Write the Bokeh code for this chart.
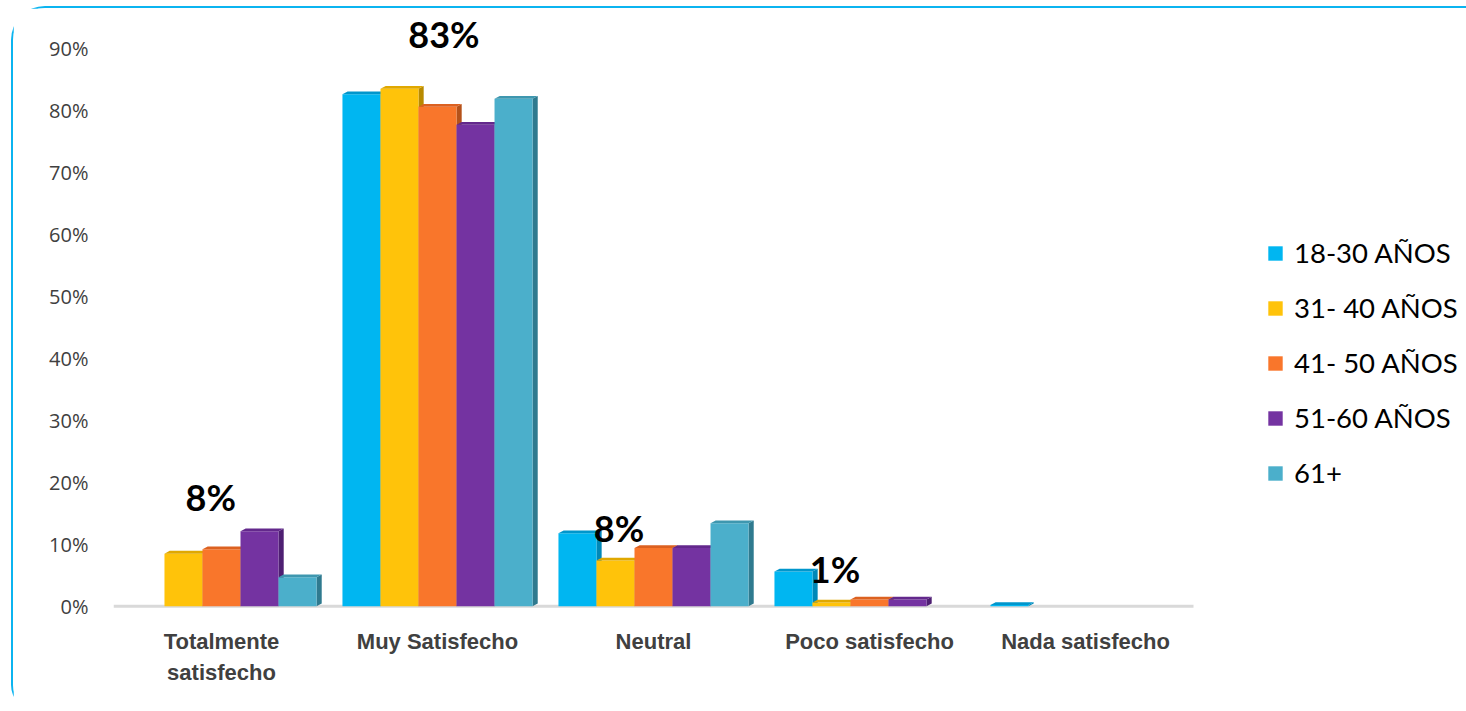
from bokeh.plotting import figure
from bokeh.models import Range1d, FixedTicker, Legend, LegendItem
from bokeh.core.properties import value
from bokeh.embed import file_html
from bokeh.resources import INLINE

# ---------------- data ----------------
categories = ["Totalmente satisfecho", "Muy Satisfecho", "Neutral", "Poco satisfecho", "Nada satisfecho"]
category_labels = ["Totalmente\nsatisfecho", "Muy Satisfecho", "Neutral", "Poco satisfecho", "Nada satisfecho"]
series_names = ["18-30 AÑOS", "31- 40 AÑOS", "41- 50 AÑOS", "51-60 AÑOS", "61+"]
v_18_30 = [0.0, 82.6, 11.8, 5.6, 0.2]
v_31_40 = [8.5, 83.5, 7.4, 0.6, 0.0]
v_41_50 = [9.2, 80.6, 9.4, 1.1, 0.0]
v_51_60 = [12.1, 77.7, 9.4, 1.1, 0.0]
v_61_plus = [4.7, 81.9, 13.4, 0.0, 0.0]
y_ticks = [0, 10, 20, 30, 40, 50, 60, 70, 80, 90]
y_tick_labels = ["0%", "10%", "20%", "30%", "40%", "50%", "60%", "70%", "80%", "90%"]
label_texts = ["8%", "83%", "8%", "1%"]
label_categories = ["Totalmente satisfecho", "Muy Satisfecho", "Neutral", "Poco satisfecho"]

# ---------------- styles ----------------
main_colors = ["#00B6F1", "#FFC30A", "#F9762B", "#7433A1", "#4BAFCB"]
side_colors = ["#0088B8", "#B88A00", "#B5521A", "#4E1F72", "#2F7A8F"]
top_colors = ["#0096CC", "#E0A800", "#DC6120", "#63288C", "#3E97AF"]
bar_w = 0.176
depth_x = 0.024
depth_y = 0.45
label_dx = [-0.05, 0.03, -0.16, -0.16]
label_y = [17.6, 92.4, 12.7, 6.1]

all_values = [v_18_30, v_31_40, v_41_50, v_51_60, v_61_plus]

W, H = 1455, 705
border_left, border_right, border_top, border_bottom = 100, 0, 9, 105
px_per_cat = 216.0
x_end = -0.5 + (W - border_left - border_right) / px_per_cat

p = figure(width=W, height=H, output_backend="svg", toolbar_location=None,
           x_range=Range1d(-0.5, x_end), y_range=Range1d(-0.35, 95),
           min_border_left=border_left, min_border_right=border_right,
           min_border_top=border_top, min_border_bottom=border_bottom)
p.background_fill_color = "white"
p.border_fill_color = "white"
p.outline_line_color = None
p.grid.visible = False
p.styles = {"margin-left": "11px", "margin-top": "6px",
            "border-top": "2px solid #0BB4F0", "border-left": "2px solid #0BB4F0",
            "border-top-left-radius": "34px", "border-bottom-left-radius": "26px",
            "box-sizing": "border-box"}

# floor / baseline
p.segment(x0=[-0.5], y0=[0], x1=[len(categories) - 0.5], y1=[0], line_color="#D9D9D9", line_width=3)

n = len(series_names)
main_renderers = []
for i, (name, vals) in enumerate(zip(series_names, all_values)):
    off = (i - (n - 1) / 2) * bar_w
    xc = [k + off for k in range(len(categories))]
    side_xs, side_ys, top_xs, top_ys = [], [], [], []
    for x, v in zip(xc, vals):
        if v <= 0:
            continue
        xl, xr = x - bar_w / 2, x + bar_w / 2
        side_xs.append([xr, xr + depth_x, xr + depth_x, xr])
        side_ys.append([0, depth_y, v + depth_y, v])
        top_xs.append([xl, xl + depth_x, xr + depth_x, xr])
        top_ys.append([v, v + depth_y, v + depth_y, v])
    p.patches(xs=side_xs, ys=side_ys, fill_color=side_colors[i], line_color=None)
    vals_pos = [v if v > 0 else float("nan") for v in vals]
    r = p.vbar(x=xc, top=vals_pos, bottom=0, width=bar_w, fill_color=main_colors[i], line_color=None)
    p.patches(xs=top_xs, ys=top_ys, fill_color=top_colors[i], line_color=None)
    main_renderers.append(r)

# data labels
lx = [categories.index(c) + dx for c, dx in zip(label_categories, label_dx)]
p.text(x=lx, y=label_y, text=label_texts, text_font=value("Lato"), text_font_style="bold",
       text_font_size="36px", text_color="#000000", text_align="center", text_baseline="middle")

# axes
p.xaxis.ticker = FixedTicker(ticks=list(range(len(categories))))
p.xaxis.major_label_overrides = {i: lab for i, lab in enumerate(category_labels)}
p.xaxis.major_label_text_font = "Liberation Sans"
p.xaxis.major_label_text_font_style = "bold"
p.xaxis.major_label_text_font_size = "22px"
p.xaxis.major_label_text_line_height = 1.25
p.xaxis.major_label_text_color = "#404040"
p.xaxis.major_label_standoff = 14
p.xaxis.major_tick_line_color = None
p.xaxis.minor_tick_line_color = None
p.xaxis.axis_line_color = None

p.yaxis.ticker = FixedTicker(ticks=y_ticks)
p.yaxis.major_label_overrides = {t: l for t, l in zip(y_ticks, y_tick_labels)}
p.yaxis.major_label_text_font = "Open Sans"
p.yaxis.major_label_text_font_size = "20px"
p.yaxis.major_label_text_color = "#404040"
p.yaxis.major_label_standoff = 19
p.yaxis.major_tick_line_color = None
p.yaxis.minor_tick_line_color = None
p.yaxis.axis_line_color = None

items = [LegendItem(label=name, renderers=[r]) for name, r in zip(series_names, main_renderers)]
legend = Legend(items=items, location=(1153, 119), orientation="vertical",
                label_text_font="Lato", label_text_font_size="27.5px", label_text_color="#000000",
                glyph_width=18, glyph_height=18, label_standoff=10, spacing=22,
                padding=0, margin=0, border_line_color=None, background_fill_alpha=0)
p.add_layout(legend, "center")

open("out.html", "w").write(file_html(p, INLINE))
